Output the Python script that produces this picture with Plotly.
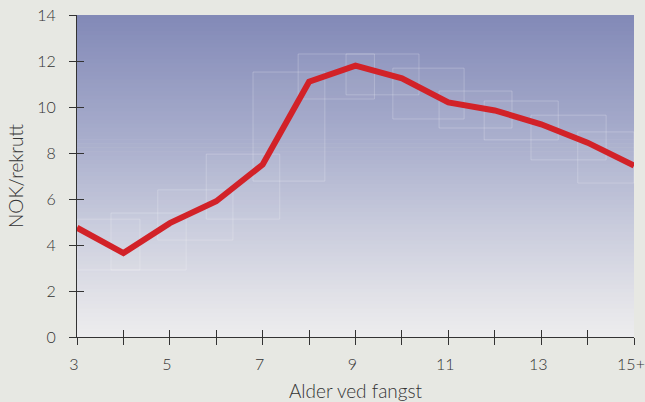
import plotly.graph_objects as go

ages = [3, 4, 5, 6, 7, 8, 9, 10, 11, 12, 13, 14, 15]
nok_per_recruit = [4.75, 3.65, 4.95, 5.9, 7.5, 11.1, 11.8, 11.25, 10.2, 9.85, 9.25, 8.45, 7.45]
x_tick_vals = [3, 4, 5, 6, 7, 8, 9, 10, 11, 12, 13, 14, 15]
x_tick_text = ["3", "", "5", "", "7", "", "9", "", "11", "", "13", "", "15+"]
y_tick_vals = [0, 2, 4, 6, 8, 10, 12, 14]

fig = go.Figure()

# background gradient of plot area (decoration)
stops = [(0.0, (237, 237, 238)), (0.12, (226, 226, 232)), (0.35, (200, 203, 220)),
         (0.6, (170, 175, 205)), (1.0, (130, 137, 183))]
def col(t):
    for (a, ca), (b, cb) in zip(stops[:-1], stops[1:]):
        if a <= t <= b:
            f = (t - a) / (b - a)
            return tuple(int(round(ca[i] + f * (cb[i] - ca[i]))) for i in range(3))
    return stops[-1][1]
shapes = []
n = 80
for i in range(n):
    y0 = i / n
    y1 = (i + 1) / n + 0.002
    c = col((i + 0.5) / n)
    shapes.append(dict(type="rect", xref="x domain", yref="y domain", x0=0, x1=1.0, y0=y0, y1=min(y1, 1),
                       fillcolor="rgb(%d,%d,%d)" % c, line=dict(width=0), layer="below"))
# faint decorative boxes (domain fractions)
boxes = [(0.0, 0.113, 0.208, 0.366), (0.061, 0.196, 0.208, 0.385), (0.145, 0.280, 0.301, 0.457),
         (0.232, 0.364, 0.366, 0.568), (0.316, 0.445, 0.484, 0.823), (0.397, 0.534, 0.739, 0.879),
         (0.483, 0.614, 0.752, 0.879), (0.567, 0.695, 0.677, 0.835), (0.650, 0.781, 0.649, 0.764),
         (0.731, 0.864, 0.612, 0.733), (0.815, 0.950, 0.550, 0.689), (0.899, 1.0, 0.478, 0.637)]
for x0, x1, y0, y1 in boxes:
    shapes.append(dict(type="rect", xref="x domain", yref="y domain", x0=x0, x1=x1, y0=y0, y1=y1,
                       fillcolor="rgba(255,255,255,0.03)", line=dict(color="rgba(255,255,255,0.22)", width=1),
                       layer="below"))

fig.add_trace(go.Scatter(x=ages, y=nok_per_recruit, mode="lines",
                         line=dict(color="rgb(210,34,40)", width=6), cliponaxis=False,
                         hoverinfo="x+y", showlegend=False))

font = dict(family="Lato, 'Open Sans', sans-serif", size=16, color="#333333", weight=300)
xr = [2.9999, 15.0001]
yr = [-0.0001, 14.0001]
fig.update_layout(
    width=645, height=402,
    margin=dict(l=77, r=11, t=15, b=65, autoexpand=False),
    paper_bgcolor="#e7e8e3", plot_bgcolor="rgba(0,0,0,0)",
    font=font, shapes=shapes,
    xaxis=dict(range=xr, tickvals=x_tick_vals, ticktext=x_tick_text, ticks="outside", ticklen=7,
               tickcolor="#333", tickwidth=1.2, showline=True, linecolor="#333", linewidth=1.2,
               showgrid=False, zeroline=False, title=dict(text="Alder ved fangst", standoff=18),
               tickfont=font, automargin=False, ticklabeloverflow="allow", ticklabelstandoff=6,
               ticklabelshift=-3),
    yaxis=dict(range=yr, tickvals=y_tick_vals, ticks="outside", ticklen=7, tickcolor="#333",
               tickwidth=1.2, showline=True, linecolor="#333", linewidth=1.2, showgrid=False,
               zeroline=False, title=dict(text="NOK/rekrutt", standoff=8), tickfont=font,
               automargin=False, ticklabelstandoff=10),
    xaxis2=dict(range=xr, overlaying="x", tickvals=x_tick_vals, ticks="inside", ticklen=7,
                tickcolor="#333", tickwidth=1.2, showticklabels=False, showgrid=False, zeroline=False,
                anchor="y", side="bottom", automargin=False),
    yaxis2=dict(range=yr, overlaying="y", tickvals=y_tick_vals, ticks="inside", ticklen=7,
                tickcolor="#333", tickwidth=1.2, showticklabels=False, showgrid=False, zeroline=False,
                anchor="x", side="left", automargin=False),
)
fig.add_trace(go.Scatter(x=[ages[0]], y=[nok_per_recruit[0]], xaxis="x2", yaxis="y2", mode="markers",
                         marker=dict(opacity=0), showlegend=False, hoverinfo="skip"))
fig.write_html("out.html", config={"displayModeBar": False},
               post_script="document.body.style.margin='0';document.body.style.background='#e7e8e3';")
